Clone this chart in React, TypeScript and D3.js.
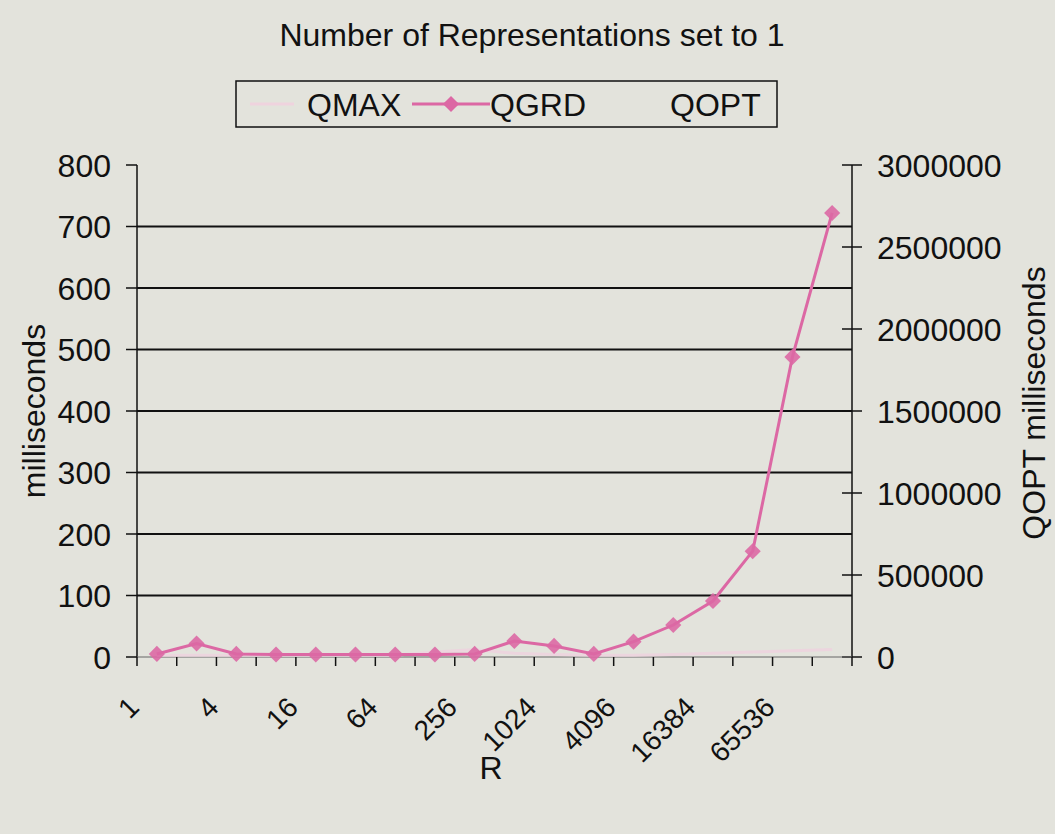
import React from "react"
import * as d3 from "d3"

// R values (powers of two) along the category axis
const categories = [
  "1", "2", "4", "8", "16", "32", "64", "128", "256",
  "512", "1024", "2048", "4096", "8192", "16384", "32768", "65536", "131072"
]
// only every other category gets a label
const labelled = ["1", "4", "16", "64", "256", "1024", "4096", "16384", "65536"]

// milliseconds
const qgrd = [5, 22, 5, 4, 4, 4, 4, 4, 5, 26, 18, 5, 25, 52, 91, 172, 488, 722]
// QMAX is almost washed out in the scan, values are rough guesses near zero
const qmax = [3, 3, 3, 3, 3, 3, 3, 8, 12, 6, 4, 3, 3, 4, 6, 8, 10, 12]

const leftTicks = [0, 100, 200, 300, 400, 500, 600, 700, 800]
const rightTicks = [0, 500000, 1000000, 1500000, 2000000, 2500000, 3000000]
const gridValues = [100, 200, 300, 400, 500, 600, 700]

const W = 1055
const H = 834
const FONT = "'Liberation Sans', Arial, sans-serif"
const FS = 32
const PINK = "#dc68a4"
const BG = "#e3e3dc"

export default function App() {
  const left = 137
  const right = 852
  const top = 165
  const bottom = 657

  const x = d3.scaleBand().domain(categories).range([left, right]).padding(0)
  const y = d3.scaleLinear().domain([0, 800]).range([bottom, top])
  const y2 = d3.scaleLinear().domain([0, 3000000]).range([bottom, top])
  const cx = (c: string) => (x(c) as number) + x.bandwidth() / 2

  const line = d3
    .line<number>()
    .x((d, i) => cx(categories[i]))
    .y(d => y(d))

  const boundaries = categories.map(c => x(c) as number).concat([right])

  // excel style marker: a square turned 45 degrees
  const diamond = d3.symbol().type(d3.symbolSquare).size(130)() as string

  return (
    <svg
      width={W}
      height={H}
      style={{ position: "absolute", left: 0, top: 0, background: BG }}
      fontFamily={FONT}
    >
      <rect x={0} y={0} width={W} height={H} fill={BG} />

      {/* title */}
      <text x={532} y={46} textAnchor="middle" fontSize={FS} fill="#111">
        Number of Representations set to 1
      </text>

      {/* legend */}
      <rect x={236} y={81} width={541} height={46} fill="none" stroke="#111" strokeWidth={1.5} />
      <line x1={250} x2={294} y1={104} y2={104} stroke="#efd3de" strokeWidth={3} />
      <text x={307} y={116} fontSize={FS} fill="#111">QMAX</text>
      <line x1={412} x2={490} y1={104} y2={104} stroke={PINK} strokeWidth={3} />
      <path d={diamond} transform="translate(451,104) rotate(45)" fill={PINK} />
      <text x={490} y={116} fontSize={FS} fill="#111">QGRD</text>
      <text x={670} y={116} fontSize={FS} fill="#111">QOPT</text>

      {/* gridlines */}
      {gridValues.map(v => (
        <line key={v} x1={left} x2={right} y1={y(v)} y2={y(v)} stroke="#111" strokeWidth={2} />
      ))}

      {/* left axis */}
      <line x1={left} x2={left} y1={top} y2={bottom} stroke="#111" strokeWidth={1.5} />
      {leftTicks.map(v => (
        <g key={v}>
          <line x1={left - 11} x2={left} y1={y(v)} y2={y(v)} stroke="#111" strokeWidth={1.5} />
          <text x={111} y={y(v)} dy="0.36em" textAnchor="end" fontSize={FS} fill="#111">
            {v}
          </text>
        </g>
      ))}
      <text
        transform={`translate(45,${(top + bottom) / 2}) rotate(-90)`}
        textAnchor="middle"
        fontSize={FS}
        fill="#111"
      >
        milliseconds
      </text>

      {/* right axis */}
      <line x1={right} x2={right} y1={top} y2={bottom} stroke="#111" strokeWidth={1.5} />
      {rightTicks.map(v => (
        <g key={v}>
          <line x1={right - 10} x2={right + 10} y1={y2(v)} y2={y2(v)} stroke="#111" strokeWidth={1.5} />
          <text x={877} y={y2(v)} dy="0.36em" textAnchor="start" fontSize={FS} fill="#111">
            {v}
          </text>
        </g>
      ))}
      <text
        transform={`translate(1045,403) rotate(-90)`}
        textAnchor="middle"
        fontSize={FS}
        fill="#111"
      >
        QOPT milliseconds
      </text>

      {/* category axis */}
      <line x1={left} x2={right} y1={bottom} y2={bottom} stroke="#666" strokeWidth={1} />
      {boundaries.map((b, i) => (
        <line key={i} x1={b} x2={b} y1={bottom} y2={bottom + 9} stroke="#111" strokeWidth={1.5} />
      ))}
      {labelled.map(c => (
        <text
          key={c}
          transform={`translate(${cx(c) - 16},709) rotate(-45)`}
          textAnchor="end"
          fontSize={28}
          fill="#111"
        >
          {c}
        </text>
      ))}
      <text x={491} y={779} textAnchor="middle" fontSize={FS} fill="#111">R</text>

      {/* series */}
      <path d={line(qmax) as string} fill="none" stroke="#ecd5de" strokeWidth={3} />
      <path d={line(qgrd) as string} fill="none" stroke={PINK} strokeWidth={3} />
      {qgrd.map((v, i) => (
        <path
          key={i}
          d={diamond}
          transform={`translate(${cx(categories[i])},${y(v)}) rotate(45)`}
          fill={PINK}
          opacity={0.9}
        />
      ))}
    </svg>
  )
}
